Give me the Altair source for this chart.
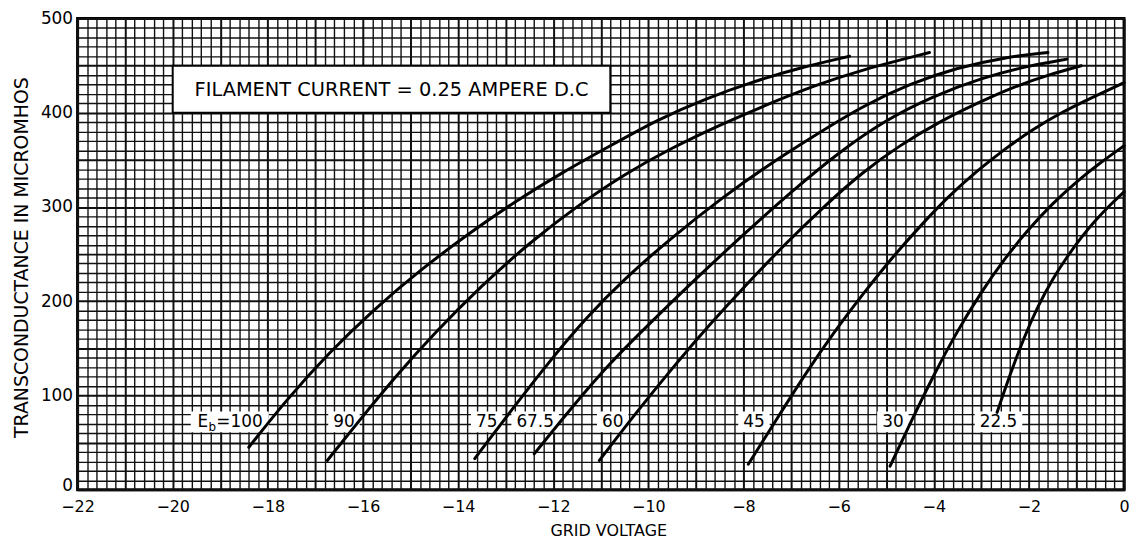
import altair as alt
import pandas as pd

FONT = "DejaVu Sans"

# ---- curve data (grid voltage, transconductance in micromhos) ----
eb_levels = ["100", "90", "75", "67.5", "60", "45", "30", "22.5"]

v_100 = [-18.4, -17.6, -16.7, -15.8, -14.8, -13.8, -12.8, -11.8, -10.8, -9.8, -8.8, -7.8, -6.8, -5.77]
g_100 = [45, 96, 146, 190, 233, 271, 306, 337, 365, 393, 415, 433, 448, 460]
v_90 = [-16.75, -16.1, -15.3, -14.5, -13.5, -12.5, -11.5, -10.5, -9.5, -8.5, -7.5, -6.5, -5.5, -4.09]
g_90 = [31, 72, 121, 166, 217, 262, 301, 335, 363, 387, 409, 429, 446, 464]
v_75 = [-13.65, -12.9, -12.1, -11.3, -10.5, -9.5, -8.5, -7.5, -6.5, -5.5, -4.5, -3.5, -2.5, -1.6]
g_75 = [33, 83, 135, 183, 224, 268, 308, 344, 376, 407, 431, 448, 459, 464]
v_675 = [-12.4, -11.6, -10.8, -10.0, -9.0, -8.0, -7.0, -6.0, -5.0, -4.0, -3.0, -2.0, -1.2]
g_675 = [38, 88, 135, 175, 224, 271, 316, 358, 393, 418, 437, 450, 457]
v_60 = [-11.03, -10.3, -9.5, -8.7, -7.9, -7.1, -6.3, -5.5, -4.7, -3.9, -3.1, -2.3, -1.6, -0.9]
g_60 = [31, 79, 129, 176, 220, 262, 301, 337, 366, 390, 410, 428, 440, 450]
v_45 = [-7.9, -7.3, -6.7, -6.1, -5.5, -4.9, -4.3, -3.7, -3.1, -2.5, -1.9, -1.3, -0.6, 0.0]
g_45 = [27, 75, 123, 167, 207, 245, 279, 311, 338, 362, 383, 401, 418, 432]
v_30 = [-4.92, -4.5, -4.0, -3.5, -3.0, -2.5, -2.0, -1.5, -1.0, -0.5, 0.0]
g_30 = [25, 70, 122, 169, 210, 246, 277, 304, 327, 347, 365]
v_225 = [-2.67, -2.4, -2.1, -1.8, -1.5, -1.2, -0.9, -0.6, -0.3, 0.0]
g_225 = [82, 122, 162, 196, 224, 247, 268, 286, 302, 316]

series_v = [v_100, v_90, v_75, v_675, v_60, v_45, v_30, v_225]
series_g = [g_100, g_90, g_75, g_675, g_60, g_45, g_30, g_225]

# ---- curve labels ----
label_text = ["", "90", "75", "67.5", "60", "45", "30", "22.5"]
label_cx = [-18.8, -16.4, -13.4, -12.38, -10.75, -7.78, -4.86, -2.64]
label_hw = [0.82, 0.33, 0.33, 0.5, 0.33, 0.33, 0.33, 0.5]
label_y = [72] * 8
label_y1 = [61] * 8
label_y2 = [83] * 8

# ---- note box ----
note_text = ["FILAMENT CURRENT = 0.25 AMPERE D.C"]
note_x = [-15.4]
note_y = [424]
note_x1 = [-20.0]
note_x2 = [-10.8]
note_y1 = [400]
note_y2 = [450]

# ---- axis grid / ticks ----
x_grid = [round(-22 + 0.2 * i, 1) for i in range(111)]
y_grid = list(range(0, 501, 10))

rows = []
for eb, vs, gs in zip(eb_levels, series_v, series_g):
    for v, g in zip(vs, gs):
        rows.append({"eb": eb, "v": v, "g": g})
curves = pd.DataFrame(rows)

labels = pd.DataFrame({
    "text": label_text,
    "cx": label_cx,
    "x1": [c - h for c, h in zip(label_cx, label_hw)],
    "x2": [c + h for c, h in zip(label_cx, label_hw)],
    "cy": label_y,
    "y1": label_y1,
    "y2": label_y2,
})
eb_label = labels.iloc[[0]]
other_labels = labels.iloc[1:]

note = pd.DataFrame({"text": note_text, "cx": note_x, "cy": note_y,
                     "x1": note_x1, "x2": note_x2, "y1": note_y1, "y2": note_y2})

x_scale = alt.Scale(domain=[-22, 0], nice=False, zero=False)
y_scale = alt.Scale(domain=[0, 500], nice=False, zero=True)

x_axis = alt.Axis(
    values=x_grid,
    labelExpr="datum.value % 2 == 0 ? format(datum.value, 'd') : ''",
    grid=True,
    gridColor="#111111",
    gridOpacity=1,
    gridWidth={"condition": {"test": "datum.value % 1 == 0", "value": 2.0}, "value": 1.4},
    ticks=False,
    domain=False,
    labelOverlap=False,
    labelFlush=False,
    labelFont=FONT,
    labelFontSize=16,
    labelColor="#000000",
    labelPadding=9,
    title="GRID VOLTAGE",
    titleFont=FONT,
    titleFontSize=16,
    titleFontWeight="normal",
    titleColor="#000000",
    titleX=534,
    titleY=41,
    titleBaseline="middle",
    titleAlign="center",
)
y_axis = alt.Axis(
    values=y_grid,
    labelExpr="datum.value % 100 == 0 ? format(datum.value, 'd') : ''",
    grid=True,
    gridColor="#111111",
    gridOpacity=1,
    gridWidth={"condition": {"test": "datum.value % 50 == 0", "value": 2.0}, "value": 1.4},
    ticks=False,
    domain=False,
    labelOverlap=False,
    labelFlush=False,
    labelOffset={"condition": {"test": "datum.value == 0", "value": -4}, "value": 0},
    labelFont=FONT,
    labelFontSize=17,
    labelColor="#000000",
    labelPadding=5,
    title="TRANSCONDUCTANCE IN MICROMHOS",
    titleFont=FONT,
    titleFontSize=19,
    titleFontWeight="normal",
    titleColor="#000000",
    titleX=-56,
    titleY=240,
    titleBaseline="middle",
    titleAlign="center",
)

base_lines = alt.Chart(curves).mark_line(
    color="#000000", strokeWidth=3, interpolate="basis", strokeCap="round"
).encode(
    x=alt.X("v:Q", scale=x_scale, axis=x_axis),
    y=alt.Y("g:Q", scale=y_scale, axis=y_axis),
    detail="eb:N",
    order="v:Q",
)

label_boxes = alt.Chart(labels).mark_rect(fill="white").encode(
    x=alt.X("x1:Q", scale=x_scale, axis=x_axis),
    x2="x2:Q",
    y=alt.Y("y1:Q", scale=y_scale, axis=y_axis),
    y2="y2:Q",
)

note_box = alt.Chart(note).mark_rect(fill="white", stroke="#000000", strokeWidth=2).encode(
    x=alt.X("x1:Q", scale=x_scale, axis=x_axis),
    x2="x2:Q",
    y=alt.Y("y1:Q", scale=y_scale, axis=y_axis),
    y2="y2:Q",
)

note_txt = alt.Chart(note).mark_text(
    font=FONT, fontSize=19.5, color="#000000", align="center", baseline="middle"
).encode(
    x=alt.X("cx:Q", scale=x_scale, axis=x_axis),
    y=alt.Y("cy:Q", scale=y_scale, axis=y_axis),
    text="text:N",
)

label_txt = alt.Chart(other_labels).mark_text(
    font=FONT, fontSize=17, color="#000000", align="center", baseline="middle"
).encode(
    x=alt.X("cx:Q", scale=x_scale, axis=x_axis),
    y=alt.Y("cy:Q", scale=y_scale, axis=y_axis),
    text="text:N",
)

eb_E = alt.Chart(eb_label).mark_text(
    font=FONT, fontSize=17, color="#000000", align="left", baseline="middle", dx=-32.5
).encode(
    x=alt.X("cx:Q", scale=x_scale, axis=x_axis),
    y=alt.Y("cy:Q", scale=y_scale, axis=y_axis),
    text=alt.value("E"),
)
eb_b = alt.Chart(eb_label).mark_text(
    font=FONT, fontSize=12, color="#000000", align="left", baseline="middle", dx=-21.5, dy=5
).encode(
    x=alt.X("cx:Q", scale=x_scale, axis=x_axis),
    y=alt.Y("cy:Q", scale=y_scale, axis=y_axis),
    text=alt.value("b"),
)
eb_val = alt.Chart(eb_label).mark_text(
    font=FONT, fontSize=17, color="#000000", align="left", baseline="middle", dx=-13.5
).encode(
    x=alt.X("cx:Q", scale=x_scale, axis=x_axis),
    y=alt.Y("cy:Q", scale=y_scale, axis=y_axis),
    text=alt.value("=100"),
)

chart = alt.layer(
    label_boxes, note_box, base_lines, note_txt, label_txt, eb_E, eb_b, eb_val
).properties(
    width=1053,
    height=474,
    padding={"left": 70, "top": 9, "right": 9, "bottom": 50},
    autosize=alt.AutoSizeParams(type="none"),
    background="white",
).configure_view(
    stroke="#000000",
    strokeWidth=3,
)

chart.save("out.html", embed_options={"renderer": "svg", "actions": False})
